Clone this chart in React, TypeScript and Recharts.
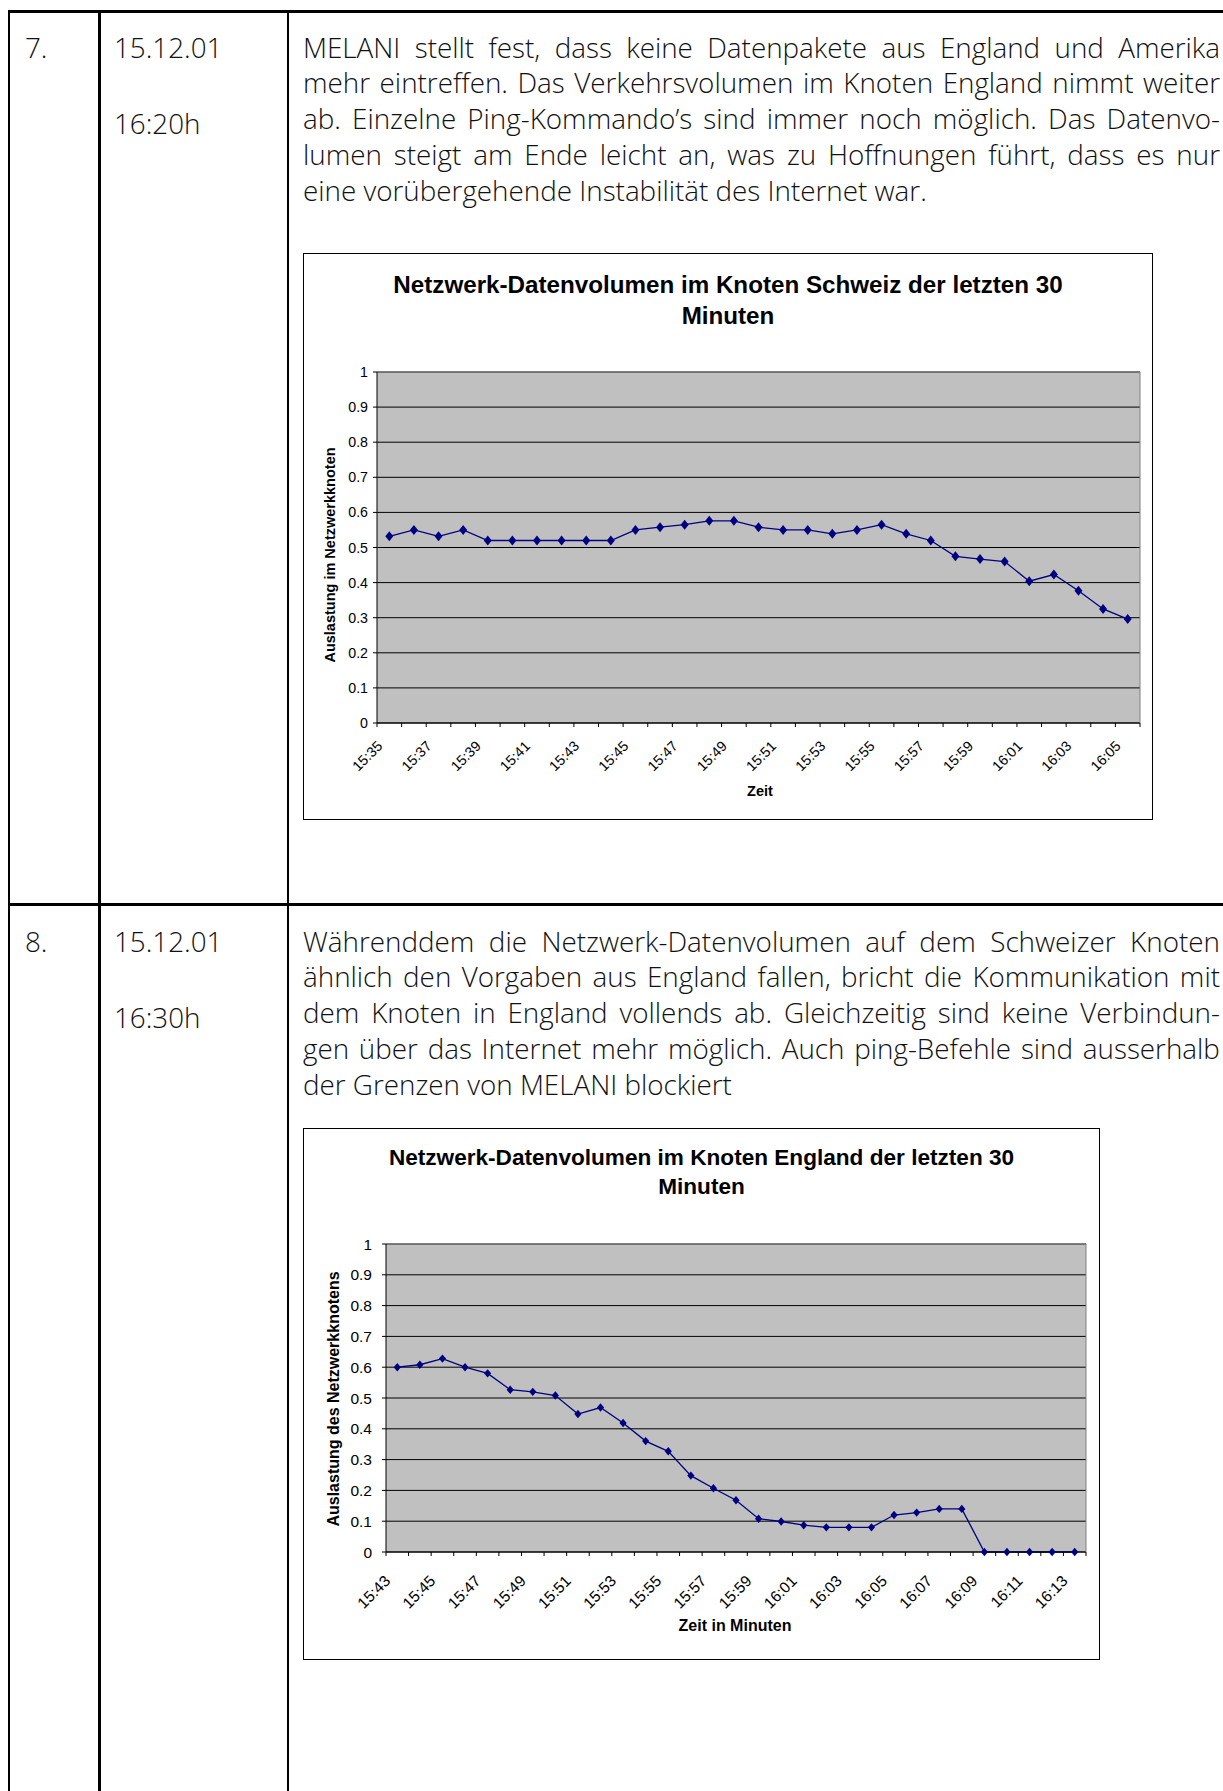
import { ComposedChart, Line, XAxis, YAxis, CartesianGrid, ReferenceLine } from "recharts";

// Schweiz node, last 30 minutes
const schweizTimes = [
  "15:35", "15:36", "15:37", "15:38", "15:39", "15:40", "15:41", "15:42", "15:43", "15:44",
  "15:45", "15:46", "15:47", "15:48", "15:49", "15:50", "15:51", "15:52", "15:53", "15:54",
  "15:55", "15:56", "15:57", "15:58", "15:59", "16:00", "16:01", "16:02", "16:03", "16:04", "16:05",
];
const schweizLoad = [
  0.532, 0.55, 0.532, 0.55, 0.52, 0.52, 0.52, 0.52, 0.52, 0.52,
  0.55, 0.558, 0.565, 0.576, 0.576, 0.558, 0.55, 0.55, 0.539, 0.55,
  0.565, 0.539, 0.52, 0.475, 0.467, 0.46, 0.404, 0.423, 0.377, 0.325, 0.296,
];

// England node, last 30 minutes
const englandTimes = [
  "15:43", "15:44", "15:45", "15:46", "15:47", "15:48", "15:49", "15:50", "15:51", "15:52",
  "15:53", "15:54", "15:55", "15:56", "15:57", "15:58", "15:59", "16:00", "16:01", "16:02",
  "16:03", "16:04", "16:05", "16:06", "16:07", "16:08", "16:09", "16:10", "16:11", "16:12", "16:13",
];
const englandLoad = [
  0.6, 0.608, 0.628, 0.6, 0.58, 0.527, 0.52, 0.508, 0.448, 0.469,
  0.419, 0.36, 0.327, 0.248, 0.207, 0.168, 0.108, 0.099, 0.087, 0.08,
  0.08, 0.08, 0.12, 0.128, 0.14, 0.14, 0, 0, 0, 0, 0,
];

const yTicks = [0, 0.1, 0.2, 0.3, 0.4, 0.5, 0.6, 0.7, 0.8, 0.9, 1];

const row7Lines = [
  "MELANI stellt fest, dass keine Datenpakete aus England und Amerika",
  "mehr eintreffen. Das Verkehrsvolumen im Knoten England nimmt weiter",
  "ab. Einzelne Ping-Kommando\u2019s sind immer noch möglich. Das Datenvo-",
  "lumen steigt am Ende leicht an, was zu Hoffnungen führt, dass es nur",
  "eine vorübergehende Instabilität des Internet war.",
];
const row8Lines = [
  "Währenddem die Netzwerk-Datenvolumen auf dem Schweizer Knoten",
  "ähnlich den Vorgaben aus England fallen, bricht die Kommunikation mit",
  "dem Knoten in England vollends ab. Gleichzeitig sind keine Verbindun-",
  "gen über das Internet mehr möglich. Auch ping-Befehle sind ausserhalb",
  "der Grenzen von MELANI blockiert",
];

const CHART_FONT = "'Liberation Sans', Arial, sans-serif";
const TEXT_FONT = "'Open Sans', sans-serif";
const NAVY = "#000080";

function TimeTick(props: any) {
  const { x, y, payload, index, width, visibleTicksCount, fontSize, dx, dy } = props;
  const bw = width / visibleTicksCount;
  const left = x - bw / 2;
  const lx = x + dx;
  const ly = y + dy;
  return (
    <g>
      <line x1={left} y1={y} x2={left} y2={y + 4} stroke="#000" />
      {index === visibleTicksCount - 1 && (
        <line x1={x + bw / 2} y1={y} x2={x + bw / 2} y2={y + 4} stroke="#000" />
      )}
      {index % 2 === 0 && (
        <text
          x={lx}
          y={ly}
          transform={`rotate(-45, ${lx}, ${ly})`}
          textAnchor="end"
          fontSize={fontSize}
          fontFamily={CHART_FONT}
          fill="#000"
        >
          {payload.value}
        </text>
      )}
    </g>
  );
}

type ChartProps = {
  left: number;
  top: number;
  width: number;
  height: number;
  title: string;
  yTitle: string;
  xTitle: string;
  times: string[];
  load: number[];
  margin: { top: number; right: number; left: number; bottom: number };
  yAxisWidth: number;
  xAxisHeight: number;
  titleSize: number;
  titleTop: number;
  titleLH: number;
  axisTitleSize: number;
  yTitlePos: [number, number];
  xTitlePos: [number, number];
  tickSize: number;
  yTickMargin: number;
  labelDx: number;
  labelDy: number;
  dotW: number;
  dotH: number;
};

function NetChart(p: ChartProps) {
  const data = p.times.map((t, i) => ({ t, v: p.load[i] }));
  const innerW = p.width - 2;
  const innerH = p.height - 2;
  return (
    <div
      style={{
        position: "absolute",
        left: p.left,
        top: p.top,
        width: innerW,
        height: innerH,
        border: "1px solid #000",
        background: "#fff",
        fontFamily: CHART_FONT,
        fontWeight: 400,
        color: "#000",
      }}
    >
      <div
        style={{
          position: "absolute",
          left: 0,
          top: p.titleTop,
          width: innerW,
          textAlign: "center",
          fontWeight: "bold",
          fontSize: p.titleSize,
          lineHeight: `${p.titleLH}px`,
        }}
      >
        {p.title.split("\n").map((s, i) => (
          <div key={i}>{s}</div>
        ))}
      </div>
      <div
        style={{
          position: "absolute",
          left: p.yTitlePos[0],
          top: p.yTitlePos[1],
          transform: "translate(-50%, -50%) rotate(-90deg)",
          whiteSpace: "nowrap",
          fontWeight: "bold",
          fontSize: p.axisTitleSize,
          lineHeight: "normal",
        }}
      >
        {p.yTitle}
      </div>
      <div
        style={{
          position: "absolute",
          left: p.xTitlePos[0],
          top: p.xTitlePos[1],
          transform: "translate(-50%, -50%)",
          whiteSpace: "nowrap",
          fontWeight: "bold",
          fontSize: p.axisTitleSize,
          lineHeight: "normal",
        }}
      >
        {p.xTitle}
      </div>
      <div style={{ position: "absolute", left: 0, top: 0 }}>
        <ComposedChart width={innerW} height={innerH} data={data} margin={p.margin}>
          <CartesianGrid vertical={false} stroke="#000" fill="#c0c0c0" fillOpacity={1} />
          <XAxis
            dataKey="t"
            scale="band"
            interval={0}
            height={p.xAxisHeight}
            tickLine={false}
            tickSize={0}
            tickMargin={0}
            axisLine={{ stroke: "#000" }}
            tick={(tp: any) => (
              <TimeTick
                {...tp}
                fontSize={p.tickSize}
                dx={p.labelDx}
                dy={p.labelDy}
              />
            )}
          />
          <YAxis
            domain={[0, 1]}
            ticks={yTicks}
            interval={0}
            width={p.yAxisWidth}
            tickSize={4}
            tickMargin={p.yTickMargin}
            axisLine={{ stroke: "#000" }}
            tickLine={{ stroke: "#000" }}
            tick={{ fill: "#000", fontSize: p.tickSize, fontFamily: CHART_FONT }}
          />
          <YAxis
            yAxisId="r"
            orientation="right"
            width={1}
            domain={[0, 1]}
            tick={false}
            tickLine={false}
            axisLine={{ stroke: "#808080" }}
          />
          <ReferenceLine y={1} stroke="#808080" />
          <Line
            type="linear"
            dataKey="v"
            stroke={NAVY}
            strokeWidth={1.3}
            isAnimationActive={false}
            dot={(dp: any) => (
              <path
                key={dp.index}
                d={`M${dp.cx},${dp.cy - p.dotH} L${dp.cx + p.dotW},${dp.cy} L${dp.cx},${dp.cy + p.dotH} L${dp.cx - p.dotW},${dp.cy} Z`}
                fill={NAVY}
                stroke="none"
              />
            )}
            activeDot={false}
          />
        </ComposedChart>
      </div>
    </div>
  );
}

function Paragraph({ lines, left, top, width }: { lines: string[]; left: number; top: number; width: number }) {
  return (
    <div style={{ position: "absolute", left, top, width }}>
      {lines.map((ln, i) =>
        i === lines.length - 1 ? (
          <div key={i} style={{ whiteSpace: "nowrap" }}>
            {ln}
          </div>
        ) : (
          <div key={i} style={{ display: "flex", justifyContent: "space-between", whiteSpace: "nowrap" }}>
            {ln.split(" ").map((w, j) => (
              <span key={j}>{w}</span>
            ))}
          </div>
        )
      )}
    </div>
  );
}

const lineStyle = { position: "absolute" as const, background: "#000" };

export default function App() {
  return (
    <div
      style={{
        position: "absolute",
        left: 0,
        top: 0,
        width: 1223,
        height: 1791,
        overflow: "hidden",
        background: "#fff",
        fontFamily: TEXT_FONT,
        fontWeight: 300,
        fontSize: 27.8,
        lineHeight: "35.8px",
        color: "#111",
      }}
    >
      {/* table borders */}
      <div style={{ ...lineStyle, left: 7.5, top: 10, width: 1216, height: 2.5 }} />
      <div style={{ ...lineStyle, left: 7.5, top: 10, width: 2.5, height: 1781 }} />
      <div style={{ ...lineStyle, left: 98, top: 10, width: 2.5, height: 1781 }} />
      <div style={{ ...lineStyle, left: 286.5, top: 10, width: 2.5, height: 1781 }} />
      <div style={{ ...lineStyle, left: 7.5, top: 903, width: 1216, height: 2.5 }} />

      {/* row 7 */}
      <div style={{ position: "absolute", left: 25, top: 29.5 }}>7.</div>
      <div style={{ position: "absolute", left: 114, top: 29.5 }}>15.12.01</div>
      <div style={{ position: "absolute", left: 114, top: 105.5 }}>16:20h</div>
      <Paragraph lines={row7Lines} left={303} top={29.5} width={917} />

      <NetChart
        left={303}
        top={253}
        width={850}
        height={567}
        title={"Netzwerk-Datenvolumen im Knoten Schweiz der letzten 30\nMinuten"}
        yTitle="Auslastung im Netzwerkknoten"
        xTitle="Zeit"
        times={schweizTimes}
        load={schweizLoad}
        margin={{ top: 118, right: 11, left: 0, bottom: 0 }}
        yAxisWidth={73}
        xAxisHeight={96}
        titleSize={24.2}
        titleTop={16}
        titleLH={30.5}
        axisTitleSize={14.5}
        yTitlePos={[26, 301]}
        xTitlePos={[456, 537]}
        tickSize={14.2}
        yTickMargin={5}
        labelDx={-6}
        labelDy={24}
        dotW={4}
        dotH={5}
      />

      {/* row 8 */}
      <div style={{ position: "absolute", left: 25, top: 923.5 }}>8.</div>
      <div style={{ position: "absolute", left: 114, top: 923.5 }}>15.12.01</div>
      <div style={{ position: "absolute", left: 114, top: 999.5 }}>16:30h</div>
      <Paragraph lines={row8Lines} left={303} top={923.5} width={917} />

      <NetChart
        left={303}
        top={1128}
        width={797}
        height={532}
        title={"Netzwerk-Datenvolumen im Knoten England der letzten 30\nMinuten"}
        yTitle="Auslastung des Netzwerkknotens"
        xTitle="Zeit in Minuten"
        times={englandTimes}
        load={englandLoad}
        margin={{ top: 115, right: 12, left: 0, bottom: 0 }}
        yAxisWidth={82}
        xAxisHeight={107}
        titleSize={22.6}
        titleTop={15}
        titleLH={28.5}
        axisTitleSize={16}
        yTitlePos={[30, 270]}
        xTitlePos={[431, 497]}
        tickSize={15.5}
        yTickMargin={10}
        labelDx={-6}
        labelDy={30}
        dotW={3.6}
        dotH={4.2}
      />
    </div>
  );
}
